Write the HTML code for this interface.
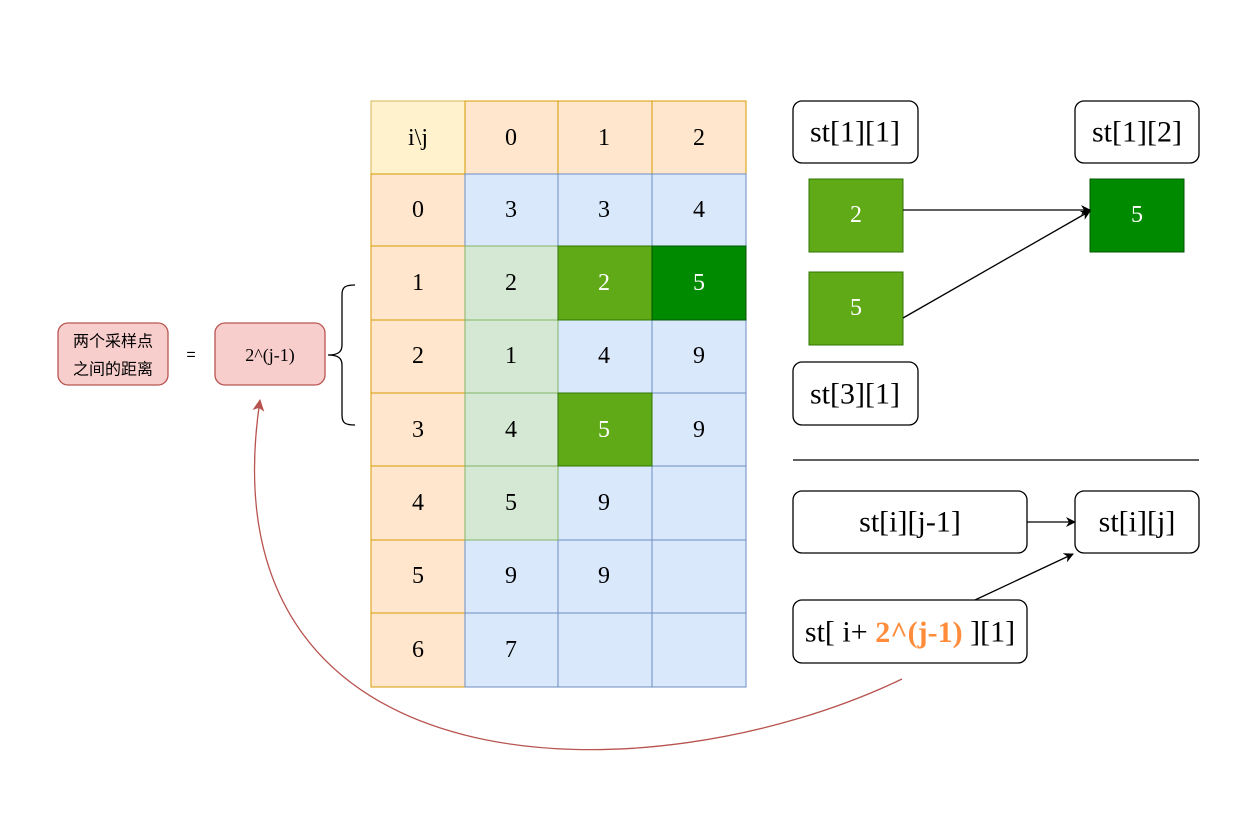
<!DOCTYPE html>
<html><head><meta charset="utf-8"><style>body{margin:0;background:#fff}svg{display:block}</style></head><body>
<svg width="1258" height="813" viewBox="0 0 1258 813" xmlns="http://www.w3.org/2000/svg">
<defs>
<marker id="a" markerWidth="10" markerHeight="10" refX="9" refY="5" orient="auto" markerUnits="userSpaceOnUse"><path d="M0,0 L10,5 L0,10 L3,5 Z" fill="#000"/></marker>
<marker id="r" markerWidth="12" markerHeight="12" refX="11" refY="6" orient="auto" markerUnits="userSpaceOnUse"><path d="M0,0 L12,6 L0,12 L3,6 Z" fill="#b85450"/></marker>
</defs>
<g font-family="Liberation Serif, serif" font-size="24" text-anchor="middle" dominant-baseline="central">
<rect x="371" y="101" width="94" height="73" fill="#fff2cc" stroke="#d6b656"/>
<text x="418" y="138">i\j</text>
<g fill="#ffe6cc" stroke="#d79b00">
<rect x="465" y="101" width="93" height="73"/><rect x="558" y="101" width="94" height="73"/><rect x="652" y="101" width="94" height="73"/>
<rect x="371" y="174" width="94" height="72"/><rect x="371" y="246" width="94" height="74"/><rect x="371" y="320" width="94" height="73"/><rect x="371" y="393" width="94" height="73"/><rect x="371" y="466" width="94" height="74"/><rect x="371" y="540" width="94" height="73"/><rect x="371" y="613" width="94" height="74"/>
</g>
<text x="511" y="138">0</text><text x="604" y="138">1</text><text x="699" y="138">2</text>
<text x="418" y="210">0</text><text x="418" y="283">1</text><text x="418" y="356">2</text><text x="418" y="430">3</text><text x="418" y="503">4</text><text x="418" y="576">5</text><text x="418" y="650">6</text>
<g fill="#dae8fc" stroke="#6c8ebf">
<rect x="465" y="174" width="93" height="72"/><rect x="558" y="174" width="94" height="72"/><rect x="652" y="174" width="94" height="72"/>
<rect x="558" y="320" width="94" height="73"/><rect x="652" y="320" width="94" height="73"/>
<rect x="652" y="393" width="94" height="73"/>
<rect x="558" y="466" width="94" height="74"/><rect x="652" y="466" width="94" height="74"/>
<rect x="465" y="540" width="93" height="73"/><rect x="558" y="540" width="94" height="73"/><rect x="652" y="540" width="94" height="73"/>
<rect x="465" y="613" width="93" height="74"/><rect x="558" y="613" width="94" height="74"/><rect x="652" y="613" width="94" height="74"/>
</g>
<g fill="#d5e8d4" stroke="#82b366">
<rect x="465" y="246" width="93" height="74"/><rect x="465" y="320" width="93" height="73"/><rect x="465" y="393" width="93" height="73"/><rect x="465" y="466" width="93" height="74"/>
</g>
<rect x="558" y="246" width="94" height="74" fill="#60a917" stroke="#2d7600"/>
<rect x="558" y="393" width="94" height="73" fill="#60a917" stroke="#2d7600"/>
<rect x="652" y="246" width="94" height="74" fill="#008a00" stroke="#005700"/>
<text x="511" y="210">3</text><text x="604" y="210">3</text><text x="699" y="210">4</text>
<text x="511" y="283">2</text><text x="604" y="283" fill="#fff">2</text><text x="699" y="283" fill="#fff">5</text>
<text x="511" y="356">1</text><text x="604" y="356">4</text><text x="699" y="356">9</text>
<text x="511" y="430">4</text><text x="604" y="430" fill="#fff">5</text><text x="699" y="430">9</text>
<text x="511" y="503">5</text><text x="604" y="503">9</text>
<text x="511" y="576">9</text><text x="604" y="576">9</text>
<text x="511" y="650">7</text>

<g fill="#fff" stroke="#000" stroke-width="1.3">
<rect x="793" y="101" width="125" height="62" rx="9"/>
<rect x="1075" y="101" width="124" height="62" rx="9"/>
<rect x="793" y="362" width="125" height="63" rx="9"/>
<rect x="793" y="491" width="234" height="62" rx="9"/>
<rect x="1075" y="491" width="124" height="62" rx="9"/>
<rect x="793" y="600" width="234" height="63" rx="9"/>
</g>
<g font-size="30">
<text x="855" y="132">st[1][1]</text>
<text x="1137" y="132">st[1][2]</text>
<text x="855" y="394">st[3][1]</text>
<text x="910" y="522">st[i][j-1]</text>
<text x="1137" y="522">st[i][j]</text>
<text x="910" y="632">st[ i+ <tspan fill="#ff8c3a" font-weight="bold">2^(j-1)</tspan> ][1]</text>
</g>
<rect x="809" y="179" width="94" height="73" fill="#60a917" stroke="#2d7600"/>
<rect x="809" y="272" width="94" height="73" fill="#60a917" stroke="#2d7600"/>
<rect x="1090" y="179" width="94" height="73" fill="#008a00" stroke="#005700"/>
<text x="856" y="215" fill="#fff">2</text>
<text x="856" y="308" fill="#fff">5</text>
<text x="1137" y="215" fill="#fff">5</text>
<line x1="903" y1="210" x2="1090" y2="210" stroke="#000" stroke-width="1.3" marker-end="url(#a)"/>
<line x1="903" y1="318" x2="1090" y2="211" stroke="#000" stroke-width="1.3" marker-end="url(#a)"/>
<line x1="793" y1="460" x2="1199" y2="460" stroke="#000" stroke-width="1.3"/>
<line x1="1027" y1="522" x2="1075" y2="522" stroke="#000" stroke-width="1.3" marker-end="url(#a)"/>
<line x1="975" y1="600" x2="1073" y2="554" stroke="#000" stroke-width="1.3" marker-end="url(#a)"/>

<rect x="58" y="323" width="110" height="62" rx="10" fill="#f8cecc" stroke="#b85450" stroke-width="1.3"/>
<text x="113" y="342" font-family="Liberation Sans, 'Noto Sans CJK SC', sans-serif" font-size="16">两个采样点</text>
<text x="113" y="370" font-family="Liberation Sans, 'Noto Sans CJK SC', sans-serif" font-size="16">之间的距离</text>
<text x="191" y="355" font-family="Liberation Sans, sans-serif" font-size="16">=</text>
<rect x="215" y="323" width="110" height="62" rx="10" fill="#f8cecc" stroke="#b85450" stroke-width="1.3"/>
<text x="270" y="355" font-size="18">2^(j-1)</text>
<path d="M355,285 C345,285 342,287 342,295 L342,345 C342,352 338,355 328,355 C338,355 342,358 342,365 L342,415 C342,423 345,425 355,425" fill="none" stroke="#000" stroke-width="1.3"/>
<path d="M902,679 C650,800 200,800 260,400" fill="none" stroke="#b85450" stroke-width="1.3" marker-end="url(#r)"/>
</g>
</svg>
</body></html>
